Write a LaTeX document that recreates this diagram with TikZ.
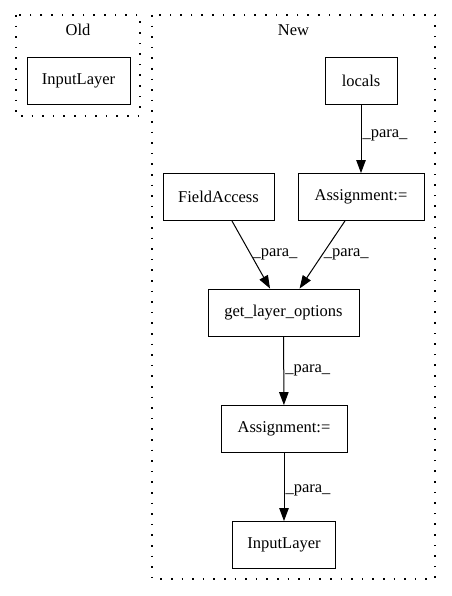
\documentclass[tikz,border=0pt]{standalone}
\usepackage{fontspec}
\setmainfont{Liberation Serif}
\usetikzlibrary{arrows.meta}
\begin{document}
\begin{tikzpicture}[x=1pt,y=-1pt,
  box/.style={draw, line width=0.9pt, minimum height=47pt, inner sep=0pt, font=\fontsize{16.5}{18}\selectfont},
  cluster/.style={draw, line width=1.2pt, dash pattern=on 1.6pt off 9pt},
  edge/.style={draw, line width=1pt, -{Triangle[length=13pt,width=9.5pt]}},
  elabel/.style={font=\fontsize{16.5}{18}\selectfont, inner sep=1pt, anchor=west},
  ctitle/.style={font=\fontsize{16.5}{18}\selectfont}]
\useasboundingbox (0,0) rectangle (451,596);
% clusters
\draw[cluster] (16,15) rectangle (140,116);
\node[ctitle] (oldt) at (78,30) {Old};
\draw[cluster] (152,15) rectangle (435,579);
\node[ctitle] (newt) at (293.5,30) {New};
% nodes
\node[box, minimum width=103pt] (oil) at (78.5,80.5) {InputLayer};
\node[box, minimum width=72pt] (loc) at (361,80.5) {locals};
\node[box, minimum width=111pt] (fa) at (218.5,197) {FieldAccess};
\node[box, minimum width=126pt] (as1) at (361,197) {Assignment:=};
\node[box, minimum width=151pt] (glo) at (283.5,312.5) {get\_layer\_options};
\node[box, minimum width=126pt] (as2) at (284,429) {Assignment:=};
\node[box, minimum width=103pt] (il) at (284,545) {InputLayer};
% edges
\draw[edge] (loc) -- node[elabel, pos=0.45] {\_para\_} (as1);
\draw[edge] (fa) -- node[elabel, pos=0.5] {\_para\_} (glo);
\draw[edge] (as1) -- node[elabel, pos=0.5] {\_para\_} (glo);
\draw[edge] (glo) -- node[elabel, pos=0.5] {\_para\_} (as2);
\draw[edge] (as2) -- node[elabel, pos=0.55] {\_para\_} (il);
\end{tikzpicture}
\end{document}
